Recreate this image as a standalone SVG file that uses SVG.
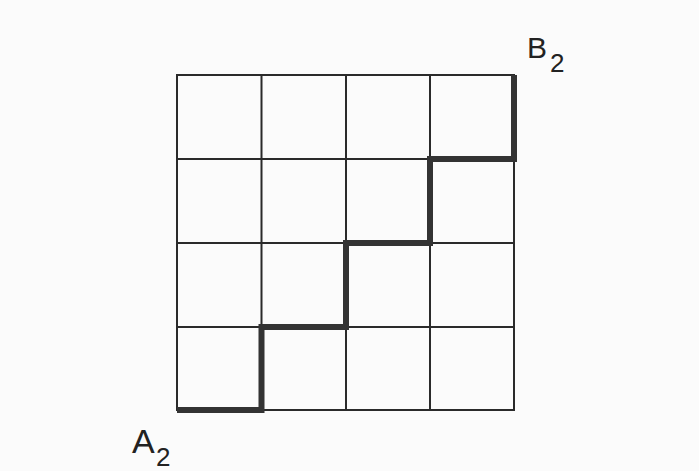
<svg xmlns="http://www.w3.org/2000/svg" width="699" height="471" viewBox="0 0 699 471">
  <style>
    .grid { fill: none; stroke: #2a2a2a; stroke-width: 2; stroke-linecap: square; }
    .route { fill: none; stroke: #333; stroke-width: 6; stroke-linejoin: miter; stroke-linecap: butt; }
    .lbl { font-family: "Liberation Sans", Arial, sans-serif; fill: #222; }
  </style>
  <rect x="0" y="0" width="699" height="471" fill="#fbfbfb"/>
  <g id="grid">
    <rect class="grid" x="177" y="75" width="337" height="335"/>
    <path class="grid" d="M261.5 75 V410 M346 75 V410 M430 75 V410 M177 159 H514 M177 243 H514 M177 327 H514"/>
  </g>
  <g id="connectors">
    <path class="route" d="M177 410 H261.5 V327 H346 V243 H430 V159 H514 V75"/>
  </g>
  <g id="label-B2">
    <text class="lbl" x="527" y="58" font-size="30">B</text>
    <text class="lbl" x="550" y="72" font-size="26">2</text>
  </g>
  <g id="label-A2">
    <text class="lbl" x="132" y="453" font-size="34">A</text>
    <text class="lbl" x="156" y="466" font-size="26">2</text>
  </g>
</svg>
